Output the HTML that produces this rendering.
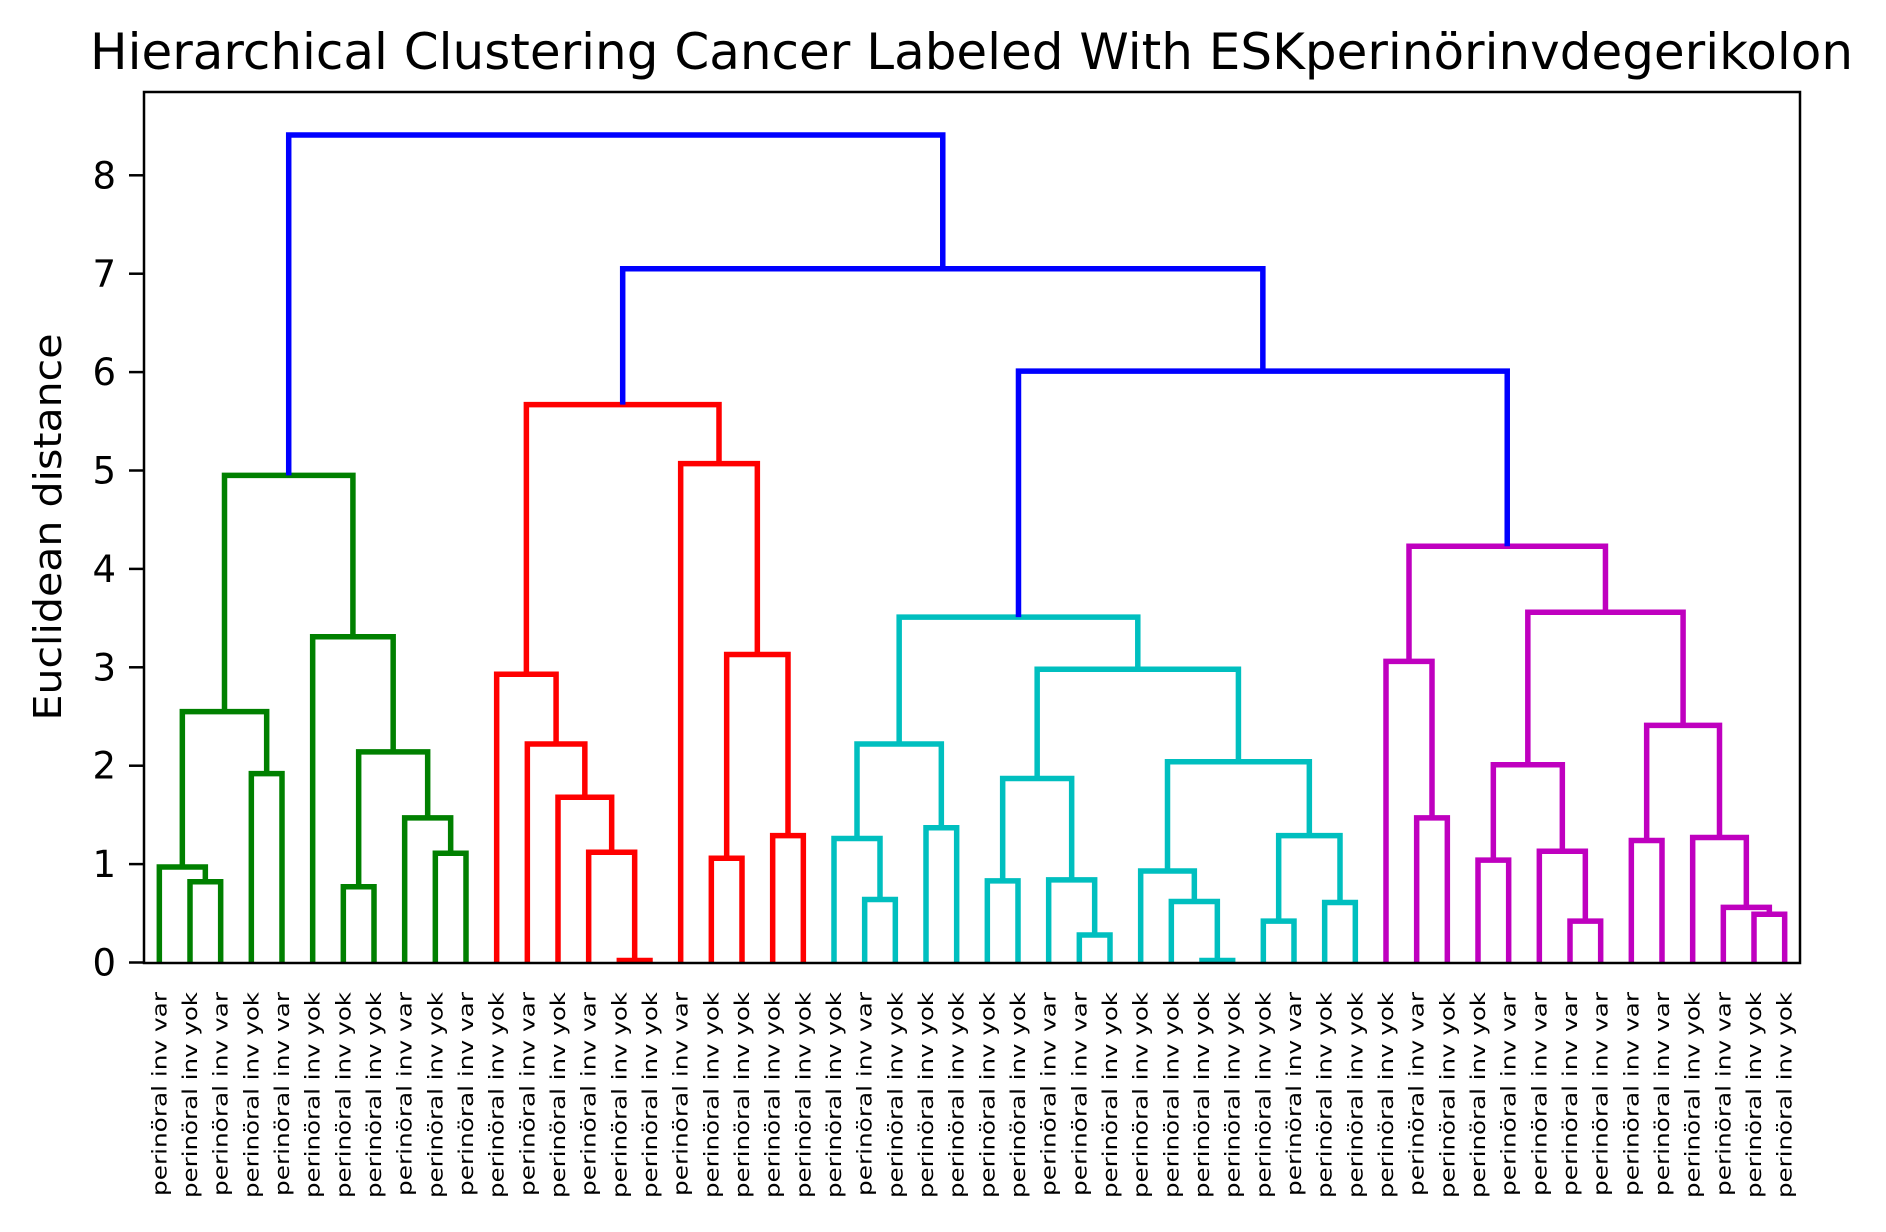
<!DOCTYPE html>
<html><head><meta charset="utf-8"><style>
html,body{margin:0;padding:0;background:#fff;}
svg{display:block;font-family:"DejaVu Sans","Liberation Sans",sans-serif;}
</style></head><body>
<svg id="chart" width="1886" height="1232" viewBox="0 0 1886 1232" xmlns="http://www.w3.org/2000/svg">
<rect x="0" y="0" width="1886" height="1232" fill="#fff"/>
<text x="90" y="69" font-size="50" textLength="1763" lengthAdjust="spacingAndGlyphs">Hierarchical Clustering Cancer Labeled With ESKperinörinvdegerikolon</text>
<text transform="translate(61,527) rotate(-90)" text-anchor="middle" font-size="38" textLength="387" lengthAdjust="spacingAndGlyphs">Euclidean distance</text>
<g id="links"></g>
<g id="yticks"></g>
<g id="xlabels"></g>
<rect x="144" y="92" width="1656" height="871" fill="none" stroke="#000" stroke-width="2.5"/>
</svg>
<script>
const leafLabels = ["var","yok","var","yok","var","yok","yok","yok","var","yok","var","yok","var","yok","var","yok","yok","var","yok","yok","yok","yok","yok","var","yok","yok",
"yok","yok","yok","var","var","yok","yok","yok","yok","yok","yok","var","yok","yok","yok","var","yok","yok","var","var","var","var","var","var","yok","var","yok","yok"];
// merges: [childA, childB, height]; ids < 54 are leaves, ids >= 54 are earlier merges
const mergeA = [1,0,3,55,6,9,8,58,5,57, 15,14,13,12,11,18,20,69,17,68, 23,22,25,75,27,30,29,78,34,33,32,36,38,85,84,81,77, 41,40,43,46,45,93,48,52,51,50,97,96,92, 90,73,63];
const mergeB = [2,54,4,56,7,10,59,60,61,62, 16,64,65,66,67,19,21,70,71,72, 24,74,26,76,28,31,79,80,35,82,83,37,39,86,87,88,89, 42,91,44,47,94,95,49,53,98,99,100,101,102, 103,104,105];
const mergeH = [0.82,0.97,1.92,2.55,0.77,1.11,1.47,2.14,3.31,4.95, 0.02,1.12,1.68,2.22,2.93,1.06,1.29,3.13,5.07,5.67, 0.64,1.26,1.37,2.22,0.83,0.28,0.84,1.87,0.02,0.62,0.93,0.42,0.61,1.29,2.04,2.98,3.51, 1.47,3.06,1.04,0.42,1.13,2.01,1.24,0.49,0.56,1.27,2.41,3.56,4.23, 6.01,7.05,8.41];
const yTicks = [0,1,2,3,4,5,6,7,8];
const colorThreshold = 5.8;

const NS = "http://www.w3.org/2000/svg";
const X0 = 144, X1 = 1800, Y0 = 962.5, PXU = 98.4;
const N = leafLabels.length;
const xScale = i => X0 + (i + 0.5) * (X1 - X0) / N;
const yScale = v => Y0 - v * PXU;
const palette = ["#008000","#ff0000","#00bfbf","#bf00bf"];

const nodeX = [], nodeH = [];
for (let i = 0; i < N; i++) { nodeX[i] = xScale(i); nodeH[i] = 0; }
mergeH.forEach((h, k) => {
  const a = mergeA[k], b = mergeB[k];
  nodeX[N + k] = (nodeX[a] + nodeX[b]) / 2;
  nodeH[N + k] = h;
});
const nodeColor = {};
let ci = 0;
function paint(id, col) {
  if (id < N) return;
  nodeColor[id] = col;
  const k = id - N;
  paint(mergeA[k], col); paint(mergeB[k], col);
}
function assign(id) {
  if (id < N) return;
  const k = id - N;
  if (mergeH[k] < colorThreshold) { paint(id, palette[ci % palette.length]); ci++; }
  else { nodeColor[id] = "#0000ff"; assign(mergeA[k]); assign(mergeB[k]); }
}
assign(N + mergeH.length - 1);

const gl = document.getElementById("links");
mergeH.forEach((h, k) => {
  const a = mergeA[k], b = mergeB[k];
  const p = document.createElementNS(NS, "path");
  const d = `M${nodeX[a]},${yScale(nodeH[a])}V${yScale(h)}H${nodeX[b]}V${yScale(nodeH[b])}`;
  p.setAttribute("d", d);
  p.setAttribute("fill", "none");
  p.setAttribute("stroke", nodeColor[N + k]);
  p.setAttribute("stroke-width", "5.5");
  p.setAttribute("stroke-linejoin", "miter");
  
  
  gl.appendChild(p);
});

const gy = document.getElementById("yticks");
yTicks.forEach(t => {
  const y = yScale(t);
  const l = document.createElementNS(NS, "line");
  l.setAttribute("x1", 129); l.setAttribute("x2", 144);
  l.setAttribute("y1", y); l.setAttribute("y2", y);
  l.setAttribute("stroke", "#000"); l.setAttribute("stroke-width", "2.5");
  
  
  gy.appendChild(l);
  const tx = document.createElementNS(NS, "text");
  tx.setAttribute("x", 116); tx.setAttribute("y", y + 13);
  tx.setAttribute("text-anchor", "end");
  tx.setAttribute("font-size", "37");
  tx.textContent = String(t);
  
  
  gy.appendChild(tx);
});

const gx = document.getElementById("xlabels");
leafLabels.forEach((lab, i) => {
  const tx = document.createElementNS(NS, "text");
  const x = xScale(i) + 7;
  tx.setAttribute("transform", `translate(${x},992) rotate(-90)`);
  tx.setAttribute("text-anchor", "end");
  tx.setAttribute("font-size", "20");
  tx.setAttribute("textLength", lab === "var" ? "204" : "206");
  tx.setAttribute("lengthAdjust", "spacingAndGlyphs");
  tx.textContent = "perinöral inv " + lab;
  
  
  gx.appendChild(tx);
});
</script>
</body></html>
